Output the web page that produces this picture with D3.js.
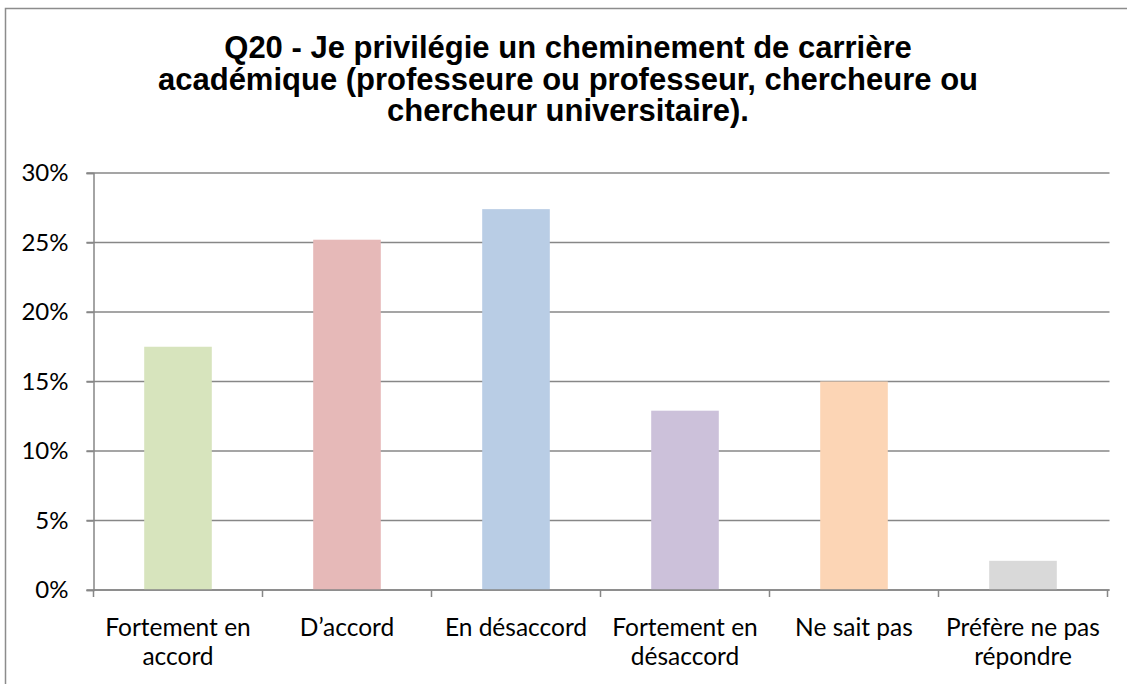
<!DOCTYPE html>
<html>
<head>
<meta charset="utf-8">
<script src="https://cdn.jsdelivr.net/npm/d3@7"></script>
<style>
  body { margin: 0; background: #fff; }
  svg { display: block; }
</style>
</head>
<body>
<div id="chart"></div>
<script>
// data
var categories = ["Fortement en accord", "D\u2019accord", "En désaccord", "Fortement en désaccord", "Ne sait pas", "Préfère ne pas répondre"];
var values = [0.175, 0.252, 0.274, 0.129, 0.150, 0.021];
var colors = ["#d7e4bd", "#e6b9b8", "#b9cde5", "#ccc1da", "#fcd5b5", "#d9d9d9"];
var yTicks = [0, 0.05, 0.10, 0.15, 0.20, 0.25, 0.30];
var titleLines = ["Q20 - Je privilégie un cheminement de carrière",
                  "académique (professeure ou professeur, chercheure ou",
                  "chercheur universitaire)."];

var width = 1127, height = 684;
var plot = {left: 93.5, right: 1107.5, top: 173, bottom: 590};

var svg = d3.select("#chart").append("svg")
    .attr("width", width)
    .attr("height", height);

// chart border (runs off the right and bottom of the picture)
svg.append("rect")
    .attr("x", 5.5).attr("y", 8.5)
    .attr("width", 1130).attr("height", 690)
    .attr("fill", "#fff")
    .attr("stroke", "#8c8c8c")
    .attr("stroke-width", 1.5);

// title
svg.append("text")
    .attr("text-anchor", "middle")
    .attr("font-family", "'Liberation Sans', Arial, sans-serif")
    .attr("font-weight", "bold")
    .attr("font-size", "31px")
    .attr("fill", "#000")
    .selectAll("tspan")
    .data(titleLines)
    .enter().append("tspan")
    .attr("x", 568)
    .attr("y", function(d, i) { return 58 + i * 31.5; })
    .text(function(d) { return d; });

var x = d3.scaleBand()
    .domain(categories)
    .range([plot.left, plot.right])
    .paddingInner(0.6)
    .paddingOuter(0.3);
var y = d3.scaleLinear()
    .domain([0, 0.30])
    .range([plot.bottom, plot.top]);

// gridlines
svg.append("g")
    .selectAll("line")
    .data(yTicks)
    .enter().append("line")
    .attr("x1", plot.left - 7)
    .attr("x2", plot.right + 2)
    .attr("y1", function(d) { return y(d); })
    .attr("y2", function(d) { return y(d); })
    .attr("stroke", "#878787")
    .attr("stroke-width", 1.5);

// bars
svg.selectAll(".bar")
    .data(values)
    .enter().append("rect")
    .attr("class", "bar")
    .attr("x", function(d, i) { return x(categories[i]); })
    .attr("width", x.bandwidth())
    .attr("y", function(d) { return y(d); })
    .attr("height", function(d) { return y(0) - y(d); })
    .attr("fill", function(d, i) { return colors[i]; });

// y axis
var yAxis = svg.append("g")
    .attr("transform", "translate(" + plot.left + ",0)")
    .call(d3.axisLeft(y).tickValues(yTicks).tickFormat(d3.format(".0%")).tickSize(7).tickPadding(18));
yAxis.select(".domain").attr("stroke", "#878787").attr("stroke-width", 1.5);
yAxis.selectAll(".tick line").attr("stroke", "#878787").attr("stroke-width", 1.5);
yAxis.selectAll("text")
    .attr("font-family", "Lato, 'Open Sans', sans-serif")
    .attr("font-size", "24px")
    .attr("fill", "#000");

// x axis: ticks at band edges
var edges = categories.map(function(c) { return x(c) - x.step() * x.paddingInner() / 2; });
edges.push(plot.right);
var xAxis = svg.append("g");
xAxis.append("line")
    .attr("x1", plot.left).attr("x2", plot.right + 2)
    .attr("y1", y(0)).attr("y2", y(0))
    .attr("stroke", "#878787").attr("stroke-width", 1.5);
xAxis.selectAll(".xt")
    .data(edges)
    .enter().append("line")
    .attr("class", "xt")
    .attr("x1", function(d) { return d; })
    .attr("x2", function(d) { return d; })
    .attr("y1", y(0))
    .attr("y2", y(0) + 7)
    .attr("stroke", "#878787").attr("stroke-width", 1.5);

// category labels, wrapped to the band width
var labels = xAxis.selectAll(".xl")
    .data(categories)
    .enter().append("text")
    .attr("class", "xl")
    .attr("text-anchor", "middle")
    .attr("font-family", "Lato, 'Open Sans', sans-serif")
    .attr("font-size", "24.5px")
    .attr("fill", "#000");

labels.each(function(c) {
    var t = d3.select(this);
    var cx = x(c) + x.bandwidth() / 2;
    var words = c.split(" ");
    var lines = [], cur = [];
    var probe = t.append("tspan");
    words.forEach(function(w) {
        var test = cur.concat([w]).join(" ");
        probe.text(test);
        if (cur.length && probe.node().getComputedTextLength() > x.step() + 2) {
            lines.push(cur.join(" "));
            cur = [w];
        } else {
            cur.push(w);
        }
    });
    lines.push(cur.join(" "));
    probe.remove();
    t.selectAll("tspan")
        .data(lines)
        .enter().append("tspan")
        .attr("x", cx)
        .attr("y", function(d, i) { return 636 + i * 28.5; })
        .text(function(d) { return d; });
});
</script>
</body>
</html>
